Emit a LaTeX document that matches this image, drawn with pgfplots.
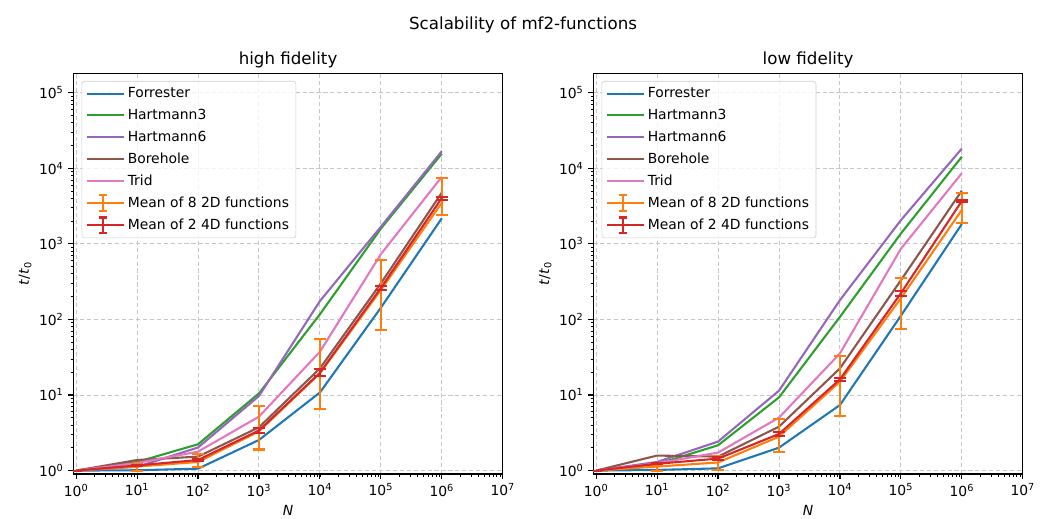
\documentclass[border=0pt]{standalone}
\usepackage{pgfplots}
\pgfplotsset{compat=1.18}
\usepackage{fontspec}
\setmainfont{DejaVu Sans}

\definecolor{c0}{HTML}{1F77B4}
\definecolor{c1}{HTML}{FF7F0E}
\definecolor{c2}{HTML}{2CA02C}
\definecolor{c3}{HTML}{D62728}
\definecolor{c4}{HTML}{9467BD}
\definecolor{c5}{HTML}{8C564B}
\definecolor{c6}{HTML}{E377C2}

\pgfplotsset{
  every axis/.append style={
    scale only axis, width=309.2pt, height=288.5pt,
    xmin=0.9, xmax=1e7, ymin=0.9, ymax=1.8e5,
    xtick={1,10,100,1e3,1e4,1e5,1e6,1e7},
    xticklabels={10\textsuperscript{0},10\textsuperscript{1},10\textsuperscript{2},10\textsuperscript{3},10\textsuperscript{4},10\textsuperscript{5},10\textsuperscript{6},10\textsuperscript{7}},
    ytick={1,10,100,1e3,1e4,1e5},
    yticklabels={10\textsuperscript{0},10\textsuperscript{1},10\textsuperscript{2},10\textsuperscript{3},10\textsuperscript{4},10\textsuperscript{5}},
    ticklabel style={font=\fontsize{10}{12}\selectfont},
    label style={font=\fontsize{10}{12}\selectfont},
    ylabel style={yshift=-1.5pt},
    title style={font=\fontsize{12}{14}\selectfont, at={(0.5,1)}, anchor=base, yshift=0.7pt},
    xlabel={\textit{N}}, ylabel={\textit{t}/\textit{t}\textsubscript{0}},
    grid=major,
    major grid style={dash pattern=on 3pt off 2pt, black!22, line width=0.7pt},
    axis line style={line width=0.8pt},
    tick align=outside, xtick pos=left, ytick pos=left,
    major tick length=3.5pt, minor tick length=2pt,
    tick style={black, line width=0.8pt},
    minor tick style={black, line width=0.6pt},
    legend cell align=left,
    legend style={at={(0,1)}, anchor=north west, xshift=6pt, yshift=-5.5pt,
      draw=black!20, rounded corners=2pt, fill=white, fill opacity=0.8, text opacity=1,
      font=\fontsize{10}{12}\selectfont, row sep=2.8pt, inner xsep=3pt, inner ysep=2.5pt},
  },
  every axis plot/.append style={line width=1.5pt},
  lineleg/.style={legend image code/.code={
    \path (0pt,0pt) -- (26.5pt,0pt);
    \draw[line width=1.5pt,#1] (0pt,0pt) -- (22.8pt,0pt);}},
  errplot/.style={
    #1,
    error bars/y dir=both, error bars/y explicit,
    error bars/error bar style={line width=1.5pt, #1},
    error bars/error mark options={line width=1.5pt, #1, mark size=4.2pt, rotate=90},
  },
  errleg/.style={legend image code/.code={
    \path (0pt,0pt) -- (26.5pt,0pt);
    \draw[line width=1.5pt,#1] (0pt,0pt) -- (22.8pt,0pt);
    \draw[line width=1.5pt,#1] (11.4pt,-5.7pt) -- (11.4pt,5.7pt);
    \draw[line width=1.5pt,#1] (8.4pt,5.7pt) -- (14.4pt,5.7pt);
    \draw[line width=1.5pt,#1] (8.4pt,-5.7pt) -- (14.4pt,-5.7pt);}},
}

\begin{document}
\begin{tikzpicture}
\path[use as bounding box] (0,0) rectangle (753.1pt,373pt);
\node[anchor=base, font=\fontsize{12}{14}\selectfont] at (376.6pt,351.5pt) {Scalability of mf2-functions};

% high fidelity
\begin{loglogaxis}[at={(52.8pt,31.7pt)}, anchor=south west, title={high fidelity}]
\addplot[c0, lineleg=c0] coordinates {(1,1) (10,1.01) (100,1.06) (1e3,2.54) (1e4,10.8) (1e5,143) (1e6,2180)};
\addlegendentry{Forrester}
\addplot[c2, lineleg=c2] coordinates {(1,1) (10,1.3) (100,2.23) (1e3,10.5) (1e4,117) (1e5,1590) (1e6,15600)};
\addlegendentry{Hartmann3}
\addplot[c4, lineleg=c4] coordinates {(1,1) (10,1.12) (100,2.02) (1e3,9.7) (1e4,175) (1e5,1680) (1e6,16800)};
\addlegendentry{Hartmann6}
\addplot[c5, lineleg=c5] coordinates {(1,1) (10,1.38) (100,1.53) (1e3,3.74) (1e4,22.5) (1e5,300) (1e6,4760)};
\addlegendentry{Borehole}
\addplot[c6, lineleg=c6] coordinates {(1,1) (10,1.26) (100,1.78) (1e3,5.17) (1e4,37.4) (1e5,730) (1e6,7700)};
\addlegendentry{Trid}
\addplot[errleg=c1, errplot=c1] coordinates {
  (1,1) +- (0,0)
  (10,1.13) += (0,0.09) -= (0,0.13)
  (100,1.30) += (0,0.36) -= (0,0.19)
  (1e3,3.3) += (0,3.9) -= (0,1.4)
  (1e4,19.4) += (0,35.8) -= (0,12.9)
  (1e5,245) += (0,367) -= (0,172)
  (1e6,3500) += (0,4010) -= (0,1090)};
\addlegendentry{Mean of 8 2D functions}
\addplot[errleg=c3, errplot=c3] coordinates {
  (1,1) +- (0,0)
  (10,1.17) +- (0,0.02)
  (100,1.38) +- (0,0.05)
  (1e3,3.4) += (0,0.3) -= (0,0.3)
  (1e4,19.7) += (0,2.1) -= (0,1.9)
  (1e5,261) += (0,16) -= (0,16)
  (1e6,4050) += (0,160) -= (0,200)};
\addlegendentry{Mean of 2 4D functions}
\end{loglogaxis}

% low fidelity
\begin{loglogaxis}[at={(427.2pt,31.7pt)}, anchor=south west, title={low fidelity}]
\addplot[c0, lineleg=c0] coordinates {(1,1) (10,1.02) (100,1.07) (1e3,2.01) (1e4,7.37) (1e5,112) (1e6,1830)};
\addlegendentry{Forrester}
\addplot[c2, lineleg=c2] coordinates {(1,1) (10,1.22) (100,2.16) (1e3,9.3) (1e4,108) (1e5,1370) (1e6,14200)};
\addlegendentry{Hartmann3}
\addplot[c4, lineleg=c4] coordinates {(1,1) (10,1.3) (100,2.42) (1e3,11.4) (1e4,180) (1e5,2055) (1e6,18200)};
\addlegendentry{Hartmann6}
\addplot[c5, lineleg=c5] coordinates {(1,1) (10,1.58) (100,1.53) (1e3,3.81) (1e4,22.5) (1e5,330) (1e6,5060)};
\addlegendentry{Borehole}
\addplot[c6, lineleg=c6] coordinates {(1,1) (10,1.25) (100,1.73) (1e3,5.02) (1e4,35.5) (1e5,860) (1e6,8590)};
\addlegendentry{Trid}
\addplot[errleg=c1, errplot=c1] coordinates {
  (1,1) +- (0,0)
  (10,1.13) += (0,0.06) -= (0,0.13)
  (100,1.28) += (0,0.28) -= (0,0.26)
  (1e3,2.81) += (0,1.96) -= (0,1.03)
  (1e4,15) += (0,17.7) -= (0,9.7)
  (1e5,191) += (0,166) -= (0,116)
  (1e6,2810) += (0,1950) -= (0,904)};
\addlegendentry{Mean of 8 2D functions}
\addplot[errleg=c3, errplot=c3] coordinates {
  (1,1) +- (0,0)
  (10,1.23) +- (0,0.02)
  (100,1.44) +- (0,0.06)
  (1e3,3.05) +- (0,0.2)
  (1e4,16.1) +- (0,0.9)
  (1e5,222) +- (0,17)
  (1e6,3690) +- (0,150)};
\addlegendentry{Mean of 2 4D functions}
\end{loglogaxis}
\end{tikzpicture}
\end{document}
